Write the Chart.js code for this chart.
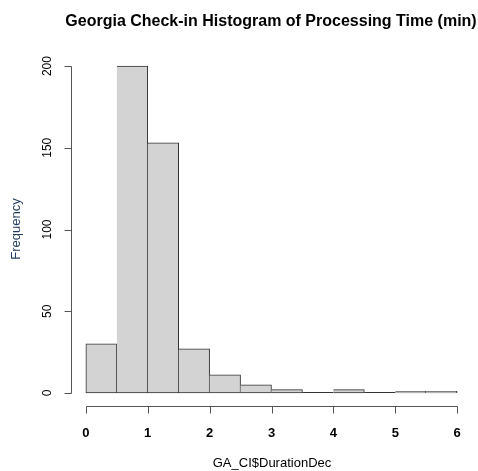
<!DOCTYPE html>
<html>
<head>
<meta charset="utf-8">
<script src="https://cdn.jsdelivr.net/npm/chart.js@4/dist/chart.umd.min.js"></script>
<style>
  body { margin: 0; background: #fff; }
  #wrap { width: 478px; height: 471px; }
</style>
</head>
<body>
<div id="wrap"><canvas id="chart1" width="478" height="471"></canvas></div>
<script>
// histogram bins (0.5 min wide) and counts
const binStarts = [0, 0.5, 1, 1.5, 2, 2.5, 3, 3.5, 4, 4.5, 5, 5.5];
const counts = [30, 200, 153, 27, 11, 5, 2, 0, 2, 0, 1, 1];
const binWidth = 0.5;
const xTicks = [0, 1, 2, 3, 4, 5, 6];
const yTicks = [0, 50, 100, 150, 200];

const titleText = "Georgia Check-in Histogram of Processing Time (min)";
const xTitle = "GA_CI$DurationDec";
const yTitle = "Frequency";

const font = "'Liberation Sans', Arial, sans-serif";

// R-style axes, drawn from the chart's own scales
const rAxes = {
  id: "rAxes",
  afterDraw(chart) {
    const c = chart.ctx;
    const xs = chart.scales.x;
    const ys = chart.scales.y;
    const area = chart.chartArea;
    c.save();

    // empty bins: R still draws a flat rect on the baseline
    c.strokeStyle = "#333";
    c.lineWidth = 1;
    const base = Math.round(ys.getPixelForValue(0)) - 0.5;
    c.beginPath();
    binStarts.forEach((b, i) => {
      if (counts[i] !== 0) return;
      c.moveTo(xs.getPixelForValue(b), base);
      c.lineTo(xs.getPixelForValue(b + binWidth), base);
    });
    c.stroke();

    c.strokeStyle = "#555";

    // x axis
    const xl = Math.round(xs.getPixelForValue(xTicks[0])) + 0.5;
    const xr = Math.round(xs.getPixelForValue(xTicks[xTicks.length - 1])) + 0.5;
    const yb = Math.round(area.bottom) + 0.5;
    c.beginPath();
    c.moveTo(xl, yb);
    c.lineTo(xr, yb);
    xTicks.forEach((t) => {
      const px = Math.round(xs.getPixelForValue(t)) + 0.5;
      c.moveTo(px, yb);
      c.lineTo(px, yb + 7);
    });
    c.stroke();

    // y axis
    const yl = Math.round(area.left) + 0.5;
    const yt = Math.round(ys.getPixelForValue(yTicks[yTicks.length - 1])) + 0.5;
    const y0 = Math.round(ys.getPixelForValue(yTicks[0])) + 0.5;
    c.beginPath();
    c.moveTo(yl, y0);
    c.lineTo(yl, yt);
    yTicks.forEach((t) => {
      const py = Math.round(ys.getPixelForValue(t)) + 0.5;
      c.moveTo(yl, py);
      c.lineTo(yl - 7, py);
    });
    c.stroke();

    c.fillStyle = "#000";
    c.textAlign = "center";
    c.textBaseline = "middle";

    // x tick labels
    c.font = "bold 13px " + font;
    xTicks.forEach((t) => {
      c.fillText(String(t), xs.getPixelForValue(t), 433);
    });

    // y tick labels, rotated
    c.font = "12px " + font;
    yTicks.forEach((t) => {
      c.save();
      c.translate(48, ys.getPixelForValue(t));
      c.rotate(-Math.PI / 2);
      c.fillText(String(t), 0, 0);
      c.restore();
    });

    // titles
    c.font = "bold 16px " + font;
    c.fillText(titleText, 271, 22);

    c.font = "13px " + font;
    c.fillText(xTitle, 272, 463);

    c.fillStyle = "#1f3a5f";
    c.save();
    c.translate(16, 229);
    c.rotate(-Math.PI / 2);
    c.fillText(yTitle, 0, 0);
    c.restore();

    c.restore();
  },
};

const ctx1 = document.getElementById("chart1").getContext("2d");
new Chart(ctx1, {
  type: "bar",
  data: {
    datasets: [
      {
        label: "Frequency",
        data: binStarts.map((b, i) => ({ x: b + binWidth / 2, y: counts[i] })),
        backgroundColor: "#d3d3d3",
        borderColor: "#333",
        borderSkipped: false,
        borderWidth: (c) =>
          c.dataIndex === 0
            ? 1
            : { top: 1, right: 1, bottom: 1, left: 0 },
        barPercentage: 1,
        categoryPercentage: 1,
      },
    ],
  },
  options: {
    responsive: false,
    animation: false,
    layout: { padding: { left: 71, right: 6, top: 53, bottom: 65 } },
    plugins: {
      legend: { display: false },
      tooltip: { enabled: false },
      title: { display: false },
    },
    scales: {
      x: {
        type: "linear",
        offset: false,
        min: -0.24,
        max: 6.24,
        display: false,
      },
      y: {
        min: -8,
        max: 208,
        display: false,
      },
    },
  },
  plugins: [rAxes],
});
</script>
</body>
</html>
